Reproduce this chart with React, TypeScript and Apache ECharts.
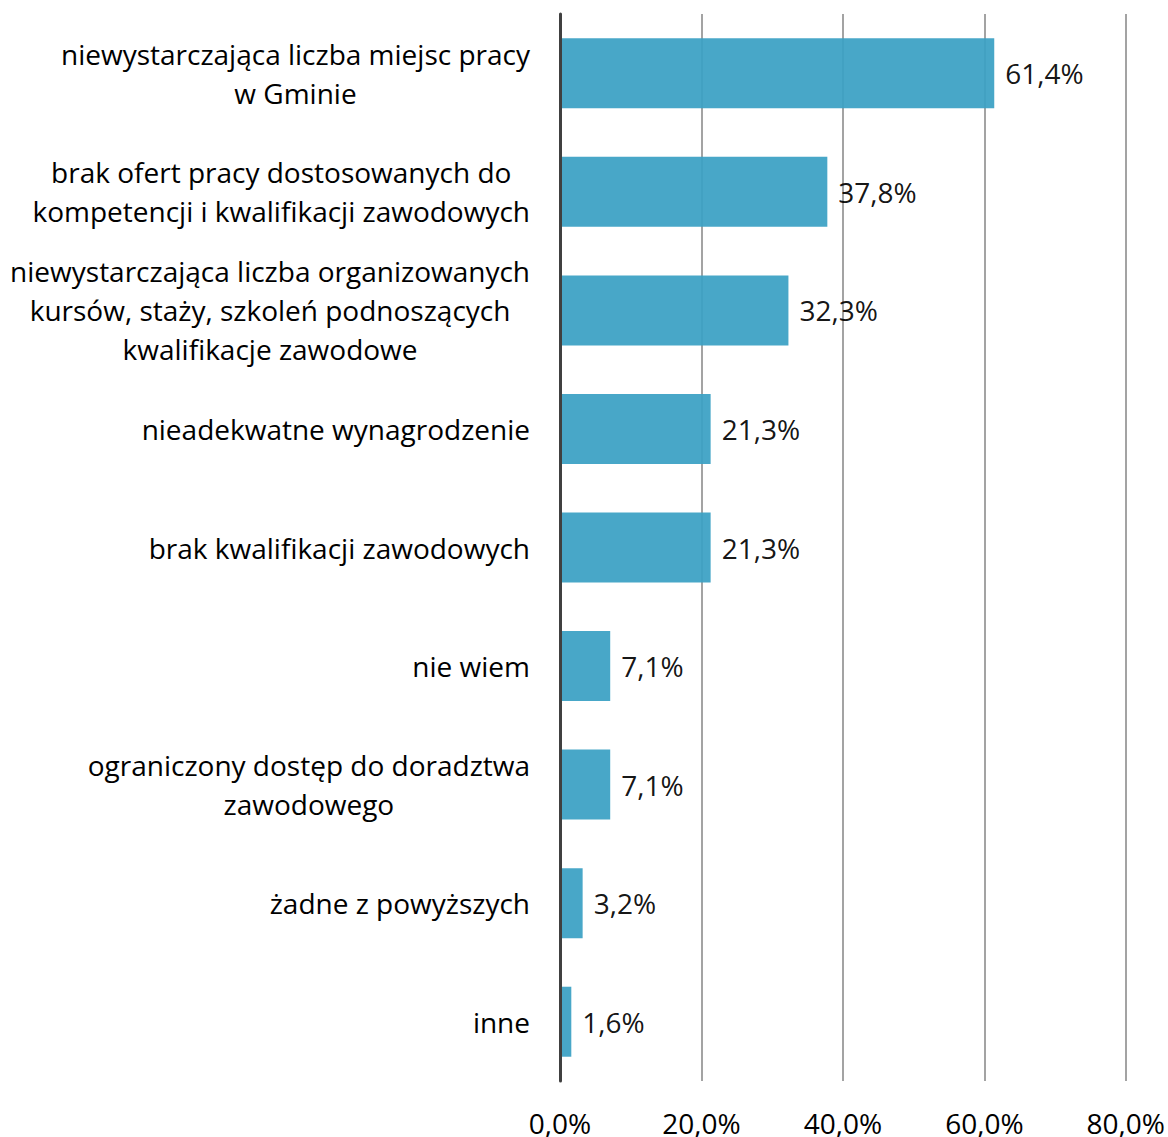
import React, { useEffect, useRef } from "react";
import * as echarts from "echarts";

const categories: string[] = [
  "niewystarczająca liczba miejsc pracy\nw Gminie",
  "brak ofert pracy dostosowanych do\nkompetencji i kwalifikacji zawodowych",
  "niewystarczająca liczba organizowanych\nkursów, staży, szkoleń podnoszących\nkwalifikacje zawodowe",
  "nieadekwatne wynagrodzenie",
  "brak kwalifikacji zawodowych",
  "nie wiem",
  "ograniczony dostęp do doradztwa\nzawodowego",
  "żadne z powyższych",
  "inne",
];

const values: number[] = [61.4, 37.8, 32.3, 21.3, 21.3, 7.1, 7.1, 3.2, 1.6];

const axisMin = 0;
const axisMax = 80;
const axisInterval = 20;

const FONT = "Open Sans";

const fmt = (v: number) => v.toFixed(1).replace(".", ",") + "%";

export default function App() {
  const ref = useRef<HTMLDivElement>(null);
  useEffect(() => {
    if (!ref.current) return;
    const chart = echarts.init(ref.current, undefined, { renderer: "svg" });
    chart.setOption({
      animation: false,
      backgroundColor: "#ffffff",
      grid: { left: 560, right: 42, top: 14, bottom: 55, containLabel: false },
      xAxis: {
        type: "value",
        min: axisMin,
        max: axisMax,
        interval: axisInterval,
        axisLine: { show: false },
        axisTick: { show: false },
        splitLine: { show: true, lineStyle: { color: "#a3a3a3", width: 2 } },
        axisLabel: {
          formatter: (v: number) => fmt(v),
          margin: 28,
          fontSize: 28,
          fontFamily: FONT,
          color: "#000000",
        },
      },
      yAxis: {
        type: "category",
        inverse: true,
        data: categories,
        axisLine: { show: true, lineStyle: { color: "#404040", width: 3 } },
        axisTick: { show: false },
        splitLine: { show: false },
        z: 5,
        axisLabel: {
          margin: 30,
          color: "#000000",
          fontSize: 28,
          fontFamily: FONT,
          lineHeight: 39,
          formatter: (v: string) =>
            v
              .split("\n")
              .map((l) => `{c|${l}}`)
              .join("\n"),
          rich: {
            c: {
              align: "center",
              fontSize: 28,
              fontFamily: FONT,
              lineHeight: 39,
              color: "#000000",
            },
          },
        },
      },
      series: [
        {
          type: "bar",
          data: values,
          barWidth: 70,
          itemStyle: { color: "#3aa0c4", opacity: 0.93 },
          z: 3,
          label: {
            show: true,
            position: "right",
            distance: 11,
            formatter: (p: any) => fmt(p.value),
            fontSize: 28,
            fontFamily: FONT,
            color: "#000000",
          },
        },
      ],
    });
    return () => chart.dispose();
  }, []);
  return (
    <div
      ref={ref}
      style={{ position: "fixed", left: 0, top: 0, width: 1168, height: 1137 }}
    />
  );
}
